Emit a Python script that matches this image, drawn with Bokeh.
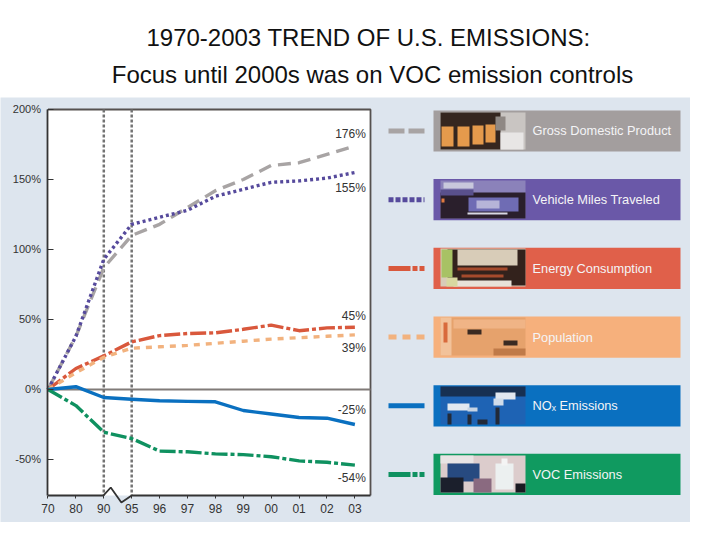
from bokeh.core.properties import value
from bokeh.embed import file_html
from bokeh.layouts import column
from bokeh.models import FixedTicker, LinearAxis, Range1d
from bokeh.plotting import figure
from bokeh.resources import INLINE

FONT = "Liberation Sans"
PANEL = "#dde5ee"

# ---- data -----------------------------------------------------------------
title_lines = ["1970-2003 TREND OF U.S. EMISSIONS:", "Focus until 2000s was on VOC emission controls"]
year_labels = ["70", "80", "90", "95", "96", "97", "98", "99", "00", "01", "02", "03"]
pct_ticks = [200, 150, 100, 50, 0, -50]
pct_labels = ["200%", "150%", "100%", "50%", "0%", "-50%"]
series_names = ["Gross Domestic Product", "Vehicle Miles Traveled", "Energy Consumption",
                "Population", "NOₓ Emissions", "VOC Emissions"]
gdp = [0, 38, 87, 110, 118, 130, 142, 150, 160, 162, 168, 174]
vmt = [0, 38, 93, 118, 123, 128, 138, 143, 148, 149, 151, 155]
energy = [0, 15, 24, 34, 38.5, 40, 40.5, 43, 46, 42, 44, 44.5]
population = [0, 12, 23, 29.5, 30.5, 31.5, 33, 34.5, 36, 37, 38, 39]
nox = [0, 2, -5.7, -7, -8, -8.5, -8.8, -15, -17.5, -20, -20.5, -25]
voc = [0, -11.5, -30.5, -35, -44, -44.5, -46, -46.5, -48, -51, -52, -54]
end_labels = ["176%", "155%", "45%", "39%", "-25%", "-54%"]
break_years = [2, 3]

# ---- styles ---------------------------------------------------------------
all_series = [gdp, vmt, energy, population, nox, voc]
line_colors = ["#a8a4a4", "#564a9c", "#d9583c", "#f2b27e", "#0a70c0", "#0f9160"]
bar_colors = ["#a39e9e", "#6a58a8", "#e0604a", "#f6b07c", "#0a70c0", "#109a60"]
dashes = [[13, 7], [3, 3], [16, 3, 4, 3], [6, 6], [], [16, 3, 4, 3]]
swatch_dashes = [[16, 4], [5, 2], [22, 2, 5, 2], [8, 6], [], [22, 2, 5, 2]]
label_offsets = [-12, 16, -11, 13, -14, 13]

# thumbnail pieces, relative to each bar's left/top edge in pixels
thumbs = [
    [("#c9c5c2", 7, 2, 92, 39), ("#35261f", 7, 2, 67, 39), ("#e59a4c", 8, 16, 20, 36),
     ("#e59a4c", 24, 16, 36, 36), ("#e59a4c", 39, 15, 50, 34), ("#e59a4c", 52, 14, 62, 32),
     ("#e8e6e5", 67, 22, 90, 39), ("#8f8884", 62, 6, 72, 20)],
    [("#8b82ba", 7, 1, 92, 39), ("#c8c8dc", 10, 3, 40, 9), ("#2a1f2c", 7, 13, 92, 39),
     ("#59508c", 7, 10, 40, 16), ("#6f6cb4", 35, 18, 85, 32), ("#b6b4d8", 43, 21, 66, 29),
     ("#e07a40", 8, 19, 11, 23), ("#d8d8e4", 34, 33, 74, 35)],
    [("#d8ccb8", 7, 1, 92, 39), ("#33221c", 14, 2, 92, 38), ("#d8ccb8", 24, 2, 84, 18),
     ("#a54a2c", 24, 20, 74, 23), ("#a54a2c", 28, 27, 70, 30), ("#e8e2d8", 20, 33, 78, 39),
     ("#a8c264", 8, 2, 19, 30), ("#d8d8a0", 13, 30, 24, 39)],
    [("#e6a26c", 7, 1, 92, 39), ("#f2c29a", 7, 1, 18, 39), ("#d86a3c", 10, 6, 14, 26),
     ("#f0b486", 20, 3, 92, 12), ("#3a2a22", 34, 13, 48, 18), ("#3a2a22", 70, 24, 84, 29),
     ("#c07a48", 60, 32, 92, 39)],
    [("#1e63b4", 7, 1, 92, 39), ("#173052", 7, 1, 92, 11), ("#e2e8f0", 14, 18, 36, 25),
     ("#e2e8f0", 62, 7, 82, 14), ("#d0dcea", 60, 13, 70, 20), ("#c6d4e4", 34, 22, 44, 26),
     ("#222a38", 14, 28, 18, 39), ("#222a38", 34, 29, 38, 39), ("#222a38", 62, 22, 66, 39),
     ("#222a38", 44, 34, 54, 39)],
    [("#dccccc", 7, 2, 92, 39), ("#e8e4e4", 7, 2, 40, 10), ("#274a80", 14, 10, 46, 28),
     ("#1b1f2c", 7, 24, 30, 39), ("#ecf0f0", 62, 10, 80, 36), ("#f4f4f4", 68, 5, 74, 12),
     ("#1a1a22", 82, 30, 92, 39), ("#8a6a80", 40, 25, 58, 39)],
]

# ---- title ----------------------------------------------------------------
head = figure(width=712, height=97, x_range=Range1d(0, 712), y_range=Range1d(97, 0),
              x_axis_location=None, y_axis_location=None, toolbar_location=None,
              output_backend="svg", min_border=0, outline_line_color=None,
              background_fill_color="white", border_fill_color="white")
head.grid.visible = False
head.text(x=[368, 372], y=[37, 74], text=title_lines, text_font=value(FONT), text_font_size="24px",
          text_color="#111111", text_align="center", text_baseline="middle")

# ---- chart + legend: one frame filling the pale panel ---------------------
p = figure(width=690, height=425,
           x_range=Range1d(-1.7025, 23.03), y_range=Range1d(-95, 208.57),
           x_axis_location=None, y_axis_location=None, toolbar_location=None,
           output_backend="svg", min_border=0, outline_line_color=None,
           background_fill_color=PANEL, border_fill_color=PANEL)
p.grid.visible = False
p.extra_x_ranges = {"px": Range1d(0, 690)}
p.extra_y_ranges = {"row": Range1d(5.699, -0.4876), "py": Range1d(522, 97)}

X_END = 11.56
Y_BOTTOM = -75.7
p.quad(left=[0], right=[X_END], top=[200], bottom=[Y_BOTTOM], fill_color="white",
       line_color=None)
p.line([0, X_END, X_END], [200, 200, Y_BOTTOM], line_color="#55514f", line_width=1.8)
p.line([0, X_END], [0, 0], line_color="#807b78", line_width=2)
for yr in break_years:
    p.line([yr, yr], [200, Y_BOTTOM], line_color="#737373", line_width=2.5, line_dash=[3, 2])

# broken bottom axis
p.line([0, 1.99, 2.25, 2.63, 3, X_END],
       [Y_BOTTOM, Y_BOTTOM, -70, -80.7, Y_BOTTOM, Y_BOTTOM], line_color="#333333", line_width=1.8)

xs = list(range(len(year_labels)))
for vals, col, dash in zip(all_series, line_colors, dashes):
    p.line(xs, vals, line_color=col, line_width=3.4, line_dash=dash, line_join="round")

for vals, lab, off in zip(all_series, end_labels, label_offsets):
    p.text(x=[xs[-1]], y=[vals[-1]], text=[lab], text_font=value(FONT), text_font_size="12px",
           text_color="#333333", text_align="right", text_baseline="middle",
           x_offset=11, y_offset=off)

xaxis = LinearAxis(fixed_location=Y_BOTTOM, ticker=FixedTicker(ticks=xs),
                   major_label_overrides=dict(zip(xs, year_labels)))
xaxis.axis_line_color = None
xaxis.major_tick_line_color = "#333333"
xaxis.major_tick_in = 0
xaxis.major_tick_out = 3
xaxis.minor_tick_line_color = None
xaxis.major_label_text_font = FONT
xaxis.major_label_text_font_size = "12px"
xaxis.major_label_text_color = "#333333"
xaxis.major_label_standoff = 6
p.add_layout(xaxis, "below")

yaxis = LinearAxis(fixed_location=0, ticker=FixedTicker(ticks=pct_ticks), bounds=(Y_BOTTOM, 200),
                   major_label_overrides=dict(zip(pct_ticks, pct_labels)))
yaxis.axis_line_color = "#333333"
yaxis.axis_line_width = 1.8
yaxis.major_tick_line_color = "#333333"
yaxis.major_tick_in = 6
yaxis.major_tick_out = 0
yaxis.minor_tick_line_color = None
yaxis.major_label_text_font = FONT
yaxis.major_label_text_font_size = "11px"
yaxis.major_label_text_color = "#333333"
yaxis.major_label_standoff = 7
p.add_layout(yaxis, "left")

# legend
rows = list(range(len(series_names)))
p.quad(left=[433] * 6, right=[680] * 6, top=[r - 0.3 for r in rows], bottom=[r + 0.3 for r in rows],
       fill_color=bar_colors, line_color=None, x_range_name="px", y_range_name="row")
for r, col, dash in zip(rows, line_colors, swatch_dashes):
    p.line([388, 424], [r, r], line_color=col, line_width=5,
           line_dash=dash, x_range_name="px", y_range_name="row")

BAR_TOPS = [110, 179, 247, 316, 385, 453]
for top, pieces in zip(BAR_TOPS, thumbs):
    p.quad(left=[433 + c[1] for c in pieces], right=[433 + c[3] for c in pieces],
           top=[top + c[2] for c in pieces], bottom=[top + c[4] for c in pieces],
           fill_color=[c[0] for c in pieces], line_color=None,
           x_range_name="px", y_range_name="py")

p.text(x=[532] * 6, y=rows, text=series_names, text_font=value(FONT), text_font_size="12.8px",
       text_color="#f4f4f6", text_align="left", text_baseline="middle",
       x_range_name="px", y_range_name="row")

page = column(head, p, spacing=0)
open("out.html", "w").write(file_html(page, INLINE))
